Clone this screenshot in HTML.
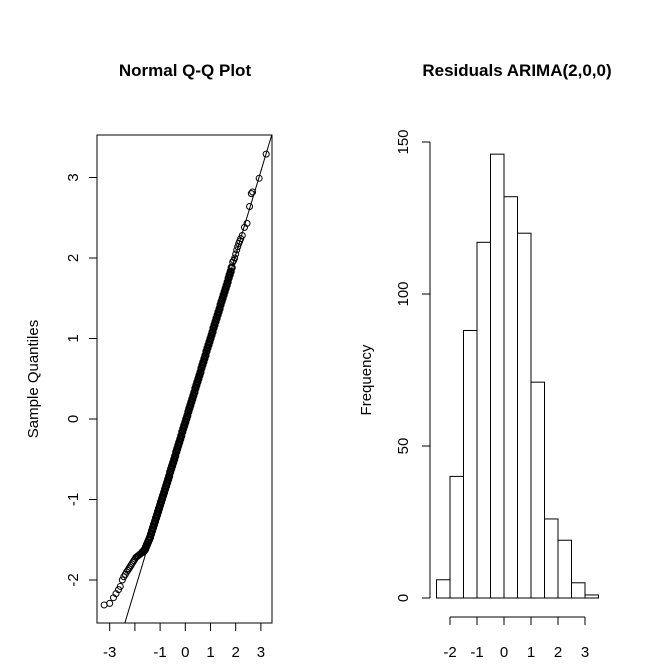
<!DOCTYPE html>
<html><head><meta charset="utf-8"><style>
html,body{margin:0;background:#fff;overflow:hidden;width:665px;height:664px}
svg{display:block;font-family:"Liberation Sans",Arial,sans-serif}
</style></head><body>
<svg id="c" width="665" height="664" viewBox="0 0 665 664">
<rect width="665" height="664" fill="#fff"/>
<defs><clipPath id="qqclip"><rect x="97" y="135" width="175" height="488"/></clipPath></defs>
<g id="qq"></g>
<g id="hist"></g>
</svg>
<script>
// QQ data
const qqTheo = [-3.22,-3.0,-2.85,-2.75,-2.65,-2.58,-2.5,-2.44,-2.38,-2.33,-2.28,-2.24,-2.2,-2.16,-2.12,-2.08,-2.04,-2.0,-1.96,-1.92,-1.88,-1.84,-1.8,-1.76,-1.72,-1.68,-1.64,
-1.60,-1.56,-1.52,-1.48,-1.44,-1.40,-1.36,-1.32,-1.28,-1.24,-1.20,-1.16,-1.12,-1.08,-1.04,-1.00,-0.96,-0.92,-0.88,-0.84,-0.80,-0.76,-0.72,-0.68,-0.64,-0.60,-0.56,-0.52,-0.48,-0.44,-0.40,-0.36,-0.32,-0.28,-0.24,-0.20,-0.16,-0.12,-0.08,-0.04,0.00,0.04,0.08,0.12,0.16,0.20,0.24,0.28,0.32,0.36,0.40,0.44,0.48,0.52,0.56,0.60,0.64,0.68,0.72,0.76,0.80,0.84,0.88,0.92,0.96,1.00,1.04,1.08,1.12,1.16,1.20,1.24,1.28,1.32,1.36,1.40,1.44,1.48,1.52,1.56,1.60,1.64,1.68,1.72,1.76,1.80,
1.84,1.88,1.92,1.96,2.0,2.04,2.08,2.12,2.16,2.2,2.26,2.35,2.45,2.55,2.62,2.67,2.93,3.21];
const qqSample = [-2.31,-2.29,-2.22,-2.17,-2.12,-2.08,-2.0,-1.96,-1.93,-1.9,-1.88,-1.86,-1.84,-1.82,-1.80,-1.78,-1.76,-1.74,-1.72,-1.71,-1.70,-1.69,-1.68,-1.67,-1.66,-1.65,-1.64,
-1.62,-1.59,-1.56,-1.53,-1.50,-1.47,-1.43,-1.39,-1.35,-1.31,-1.27,-1.23,-1.19,-1.15,-1.11,-1.07,-1.03,-0.99,-0.95,-0.91,-0.87,-0.83,-0.79,-0.75,-0.71,-0.66,-0.62,-0.58,-0.54,-0.50,-0.46,-0.41,-0.37,-0.33,-0.29,-0.25,-0.21,-0.16,-0.12,-0.08,-0.04,0.00,0.04,0.09,0.13,0.17,0.21,0.25,0.29,0.33,0.38,0.42,0.46,0.50,0.54,0.58,0.63,0.67,0.71,0.75,0.79,0.84,0.88,0.92,0.96,1.00,1.04,1.08,1.13,1.17,1.21,1.25,1.29,1.33,1.37,1.42,1.46,1.50,1.54,1.58,1.62,1.66,1.70,1.75,1.79,1.83,
1.88,1.95,1.97,2.0,2.05,2.1,2.14,2.18,2.21,2.24,2.28,2.38,2.43,2.64,2.8,2.82,2.99,3.29];
const qqLine = [-0.04, 1.04]; // intercept, slope
const qqXTicks = [-3,-2,-1,0,1,2,3];
const qqXLabels = ["-3","","-1","0","1","2","3"];
const qqYTicks = [-2,-1,0,1,2,3];
// Histogram data
const histBreaks = [-2.5,-2,-1.5,-1,-0.5,0,0.5,1,1.5,2,2.5,3,3.5];
const histCounts = [6,40,88,117,146,132,120,71,26,19,5,1];
const histXTicks = [-2,-1,0,1,2,3];
const histYTicks = [0,50,100,150];

const NS="http://www.w3.org/2000/svg";
function mk(tag,attrs,parent,text){const e=document.createElementNS(NS,tag);for(const k in attrs)e.setAttribute(k,attrs[k]);if(text!==undefined)e.textContent=text;parent.appendChild(e);return e;}

const FS=15;
// QQ axes
const qx=v=>185.3+v*25.2, qy=v=>419-v*80.5;
const qq=document.getElementById('qq');
let t=mk('text',{x:185,y:76,'text-anchor':'middle','font-size':17,'font-weight':'bold'},qq,'Normal Q-Q Plot');


t=mk('text',{x:0,y:0,transform:'translate(38,379) rotate(-90)','text-anchor':'middle','font-size':FS},qq,'Sample Quantiles');


let b=mk('rect',{x:97,y:135,width:175,height:488,fill:'none',stroke:'#000','stroke-width':1},qq);


qqXTicks.forEach((v,i)=>{
  const l=mk('line',{x1:qx(v),x2:qx(v),y1:623,y2:631,stroke:'#000'},qq);
  
  
  if(qqXLabels[i]){const tt=mk('text',{x:qx(v),y:657,'text-anchor':'middle','font-size':FS},qq,qqXLabels[i]);
  
  }
});
qqYTicks.forEach(v=>{
  const l=mk('line',{x1:89,x2:97,y1:qy(v),y2:qy(v),stroke:'#000'},qq);
  
  
  const tt=mk('text',{x:0,y:0,transform:`translate(78,${qy(v)}) rotate(-90)`,'text-anchor':'middle','font-size':FS},qq,String(v));
  
  
});
const ln=mk('line',{x1:qx(-4),y1:qy(qqLine[0]+qqLine[1]*-4),x2:qx(4),y2:qy(qqLine[0]+qqLine[1]*4),stroke:'#000','clip-path':'url(#qqclip)'},qq);


qqTheo.forEach((v,i)=>{
  const dense = v>-1.7 && v<1.85;
  const c=mk('circle',{cx:qx(v),cy:qy(qqSample[i]),r:3,fill:'none',stroke:'#000','stroke-width':dense?2.2:1},qq);
  
  
});

// Histogram
const hx=v=>504+v*27, hy=v=>598-v*3.04;
const hg=document.getElementById('hist');
t=mk('text',{x:517,y:76,'text-anchor':'middle','font-size':17,'font-weight':'bold'},hg,'Residuals ARIMA(2,0,0)');


t=mk('text',{x:0,y:0,transform:'translate(371,380) rotate(-90)','text-anchor':'middle','font-size':FS},hg,'Frequency');


histCounts.forEach((c,i)=>{
  const r=mk('rect',{x:hx(histBreaks[i]),y:hy(c),width:hx(histBreaks[i+1])-hx(histBreaks[i]),height:hy(0)-hy(c),fill:'#fff',stroke:'#000','stroke-width':1},hg);
  
  
});
let ax=mk('line',{x1:430,x2:430,y1:hy(histYTicks[0]),y2:hy(histYTicks[histYTicks.length-1]),stroke:'#000'},hg);


histYTicks.forEach(v=>{
  const l=mk('line',{x1:422,x2:430,y1:hy(v),y2:hy(v),stroke:'#000'},hg);
  
  
  const tt=mk('text',{x:0,y:0,transform:`translate(408,${hy(v)}) rotate(-90)`,'text-anchor':'middle','font-size':FS},hg,String(v));
  
  
});
ax=mk('line',{x1:hx(histXTicks[0]),x2:hx(histXTicks[histXTicks.length-1]),y1:617,y2:617,stroke:'#000'},hg);


histXTicks.forEach(v=>{
  const l=mk('line',{x1:hx(v),x2:hx(v),y1:617,y2:625,stroke:'#000'},hg);
  
  
  const tt=mk('text',{x:hx(v),y:657,'text-anchor':'middle','font-size':FS},hg,String(v));
  
  
});
</script>
</body></html>
